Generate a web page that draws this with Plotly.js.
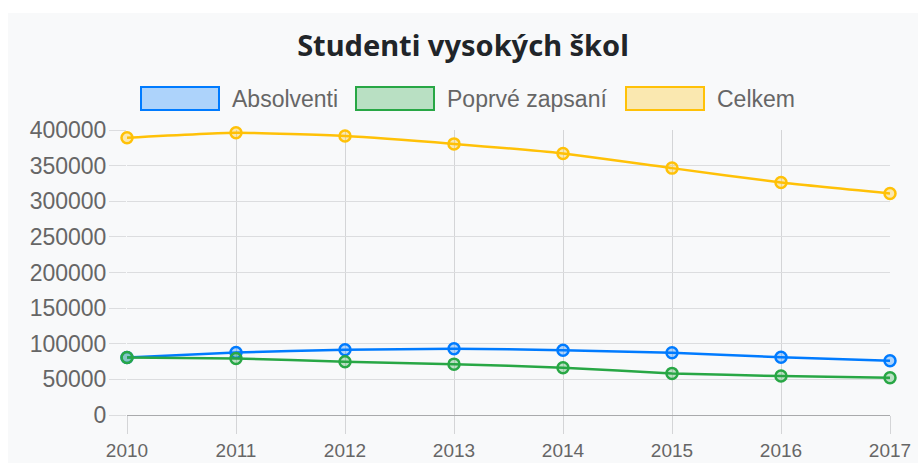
<!DOCTYPE html>
<html>
<head>
<meta charset="utf-8">
<script src="https://cdn.plot.ly/plotly-3.0.1.min.js"></script>
<style>
  html, body { margin: 0; padding: 0; background: #ffffff; }
  #chart { position: absolute; left: 8px; top: 13px; width: 910px; height: 450px; }
</style>
</head>
<body>
<div id="chart"></div>
<script>
// ---- Data ----
const years = [2010, 2011, 2012, 2013, 2014, 2015, 2016, 2017];
const absolventi = [80800, 87800, 91500, 92900, 91000, 87300, 81200, 76100];
const poprveZapsani = [80800, 79400, 74700, 71400, 66300, 58400, 54600, 52300];
const celkem = [389000, 396000, 391500, 380500, 367000, 346500, 326300, 311000];
const seriesNames = ["Absolventi", "Poprvé zapsaní", "Celkem"];
const seriesColors = ["0,123,255", "40,167,69", "255,193,7"];
const seriesValues = [absolventi, poprveZapsani, celkem];
const yTicks = [0, 50000, 100000, 150000, 200000, 250000, 300000, 350000, 400000];
const titleText = "Studenti vysokých škol";

// ---- Geometry helpers (pixels inside the chart div) ----
const W = 910, H = 450;
const M = { l: 119, r: 28, t: 117, b: 48 };
const pw = W - M.l - M.r, ph = H - M.t - M.b;
const px2paperX = px => (px - 8 - M.l) / pw;
const px2paperY = py => (H - M.b - (py - 13)) / ph;

const traces = seriesValues.map((vals, i) => ({
  type: "scatter",
  mode: "lines+markers",
  name: seriesNames[i],
  x: years,
  y: vals,
  cliponaxis: false,
  line: { color: "rgb(" + seriesColors[i] + ")", width: 2.5, shape: "spline", smoothing: 0.5 },
  marker: {
    size: 11,
    color: "rgba(" + seriesColors[i] + ",0.3)",
    line: { color: "rgb(" + seriesColors[i] + ")", width: 2.5 }
  },
  hoverinfo: "x+y+name"
}));

// Legend drawn as shapes + annotations (boxes like the reference)
const legendBoxX = [141, 356, 626];   // left px of each box
const boxW = 78, boxTop = 87, boxBot = 110;
const shapes = [];
const annotations = [];
seriesNames.forEach((name, i) => {
  shapes.push({
    type: "rect", xref: "paper", yref: "paper",
    x0: px2paperX(legendBoxX[i]), x1: px2paperX(legendBoxX[i] + boxW),
    y0: px2paperY(boxBot), y1: px2paperY(boxTop),
    fillcolor: "rgba(" + seriesColors[i] + ",0.3)",
    line: { color: "rgb(" + seriesColors[i] + ")", width: 2 },
    layer: "above"
  });
  annotations.push({
    xref: "paper", yref: "paper",
    x: px2paperX(legendBoxX[i] + boxW + 11), y: px2paperY((boxTop + boxBot) / 2),
    xanchor: "left", yanchor: "middle",
    text: name, showarrow: false,
    font: { family: "Liberation Sans, Arial, sans-serif", size: 23, color: "#666666" }
  });
});

const layout = {
  width: W, height: H,
  paper_bgcolor: "#f8f9fa",
  plot_bgcolor: "#f8f9fa",
  margin: M,
  showlegend: false,
  title: {
    text: "<b>" + titleText + "</b>",
    x: 0.5, xanchor: "center",
    y: 1 - 33 / H, yanchor: "middle", yref: "container",
    font: { family: "Noto Sans, Open Sans, sans-serif", size: 29, color: "#212529" }
  },
  xaxis: {
    type: "linear",
    range: [years[0], years[years.length - 1]],
    tickvals: years,
    ticktext: years.map(String),
    showgrid: true, gridcolor: "#d4d5d7", gridwidth: 1,
    ticks: "outside", ticklen: 18, tickcolor: "#d4d5d7", tickwidth: 1,
    showline: false, zeroline: false,
    tickfont: { family: "Liberation Sans, Arial, sans-serif", size: 19, color: "#666666" },
    fixedrange: true
  },
  yaxis: {
    range: [0, 400000],
    tickvals: yTicks,
    tickformat: "d",
    showgrid: true, gridcolor: "#dcdddf", gridwidth: 1,
    ticks: "outside", ticklen: 17, tickcolor: "#dcdddf", tickwidth: 1,
    ticklabelstandoff: -2,
    zeroline: true, zerolinecolor: "#a9aaac", zerolinewidth: 1,
    showline: false,
    tickfont: { family: "Liberation Sans, Arial, sans-serif", size: 23, color: "#666666" },
    fixedrange: true
  },
  shapes: shapes,
  annotations: annotations
};

Plotly.newPlot("chart", traces, layout, { displayModeBar: false, staticPlot: false });
</script>
</body>
</html>
